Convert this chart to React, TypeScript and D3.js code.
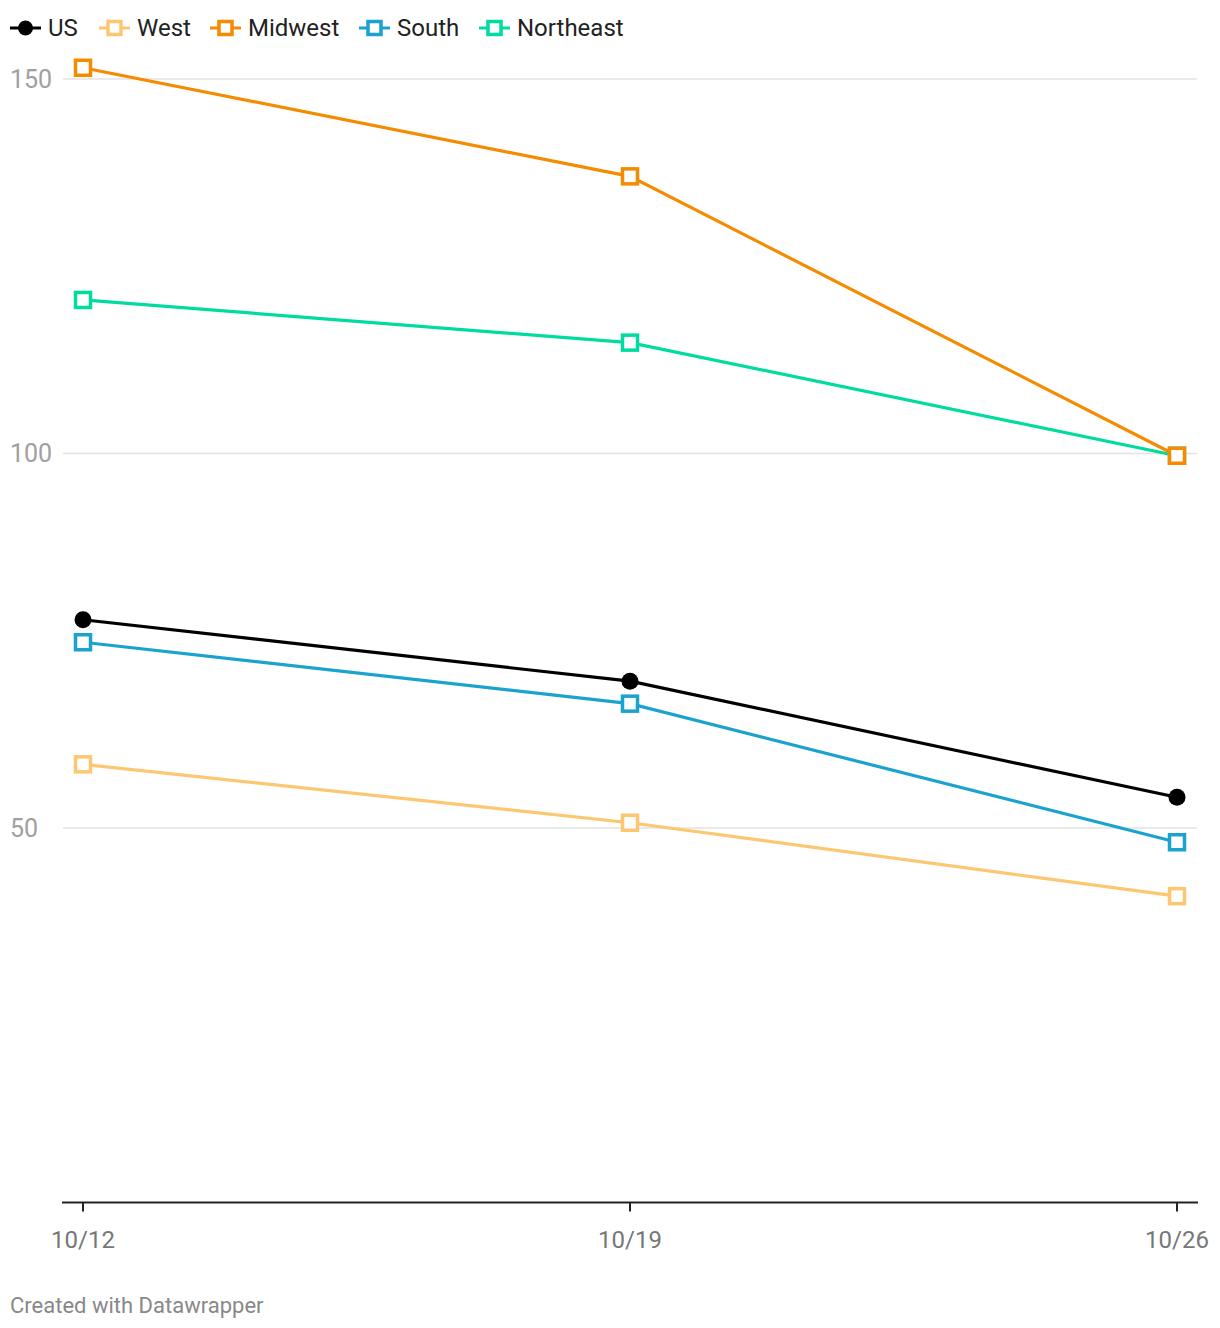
import React from "react";
import * as d3 from "d3";

const dates = ["10/12", "10/19", "10/26"];
const seriesNames = ["US", "West", "Midwest", "South", "Northeast"];
const usValues = [77.8, 69.6, 54.1];
const westValues = [58.5, 50.7, 40.9];
const midwestValues = [151.5, 137.0, 99.7];
const southValues = [74.8, 66.6, 48.1];
const northeastValues = [120.5, 114.8, 99.7];
const yTicks = [50, 100, 150];
const colors = ["#000000", "#fdc771", "#f58b00", "#1ba3d0", "#00dca0"];

const W = 1220;
const H = 1328;
const FONT = "Roboto, 'Noto Sans', sans-serif";

export default function App() {
  const values = [usValues, westValues, midwestValues, southValues, northeastValues];
  const x = d3.scalePoint<string>().domain(dates).range([83, 1177]);
  const y = d3.scaleLinear().domain([0, 150]).range([1202.5, 79]);
  const line = d3
    .line<number>()
    .x((_, i) => x(dates[i]) as number)
    .y((d) => y(d));

  const legendX = [10, 99, 210, 359, 479];

  const order = [1, 3, 4, 2, 0];

  return (
    <svg width={W} height={H} style={{ display: "block", position: "absolute", left: 0, top: 0 }}>
      <rect width={W} height={H} fill="#fff" />
      {yTicks.map((t) => (
        <g key={t}>
          <line x1={63} x2={1197} y1={y(t)} y2={y(t)} stroke="#e3e3e3" strokeWidth={1.5} />
          <text x={10} y={y(t)} dy="0.35em" fontFamily={FONT} fontSize={25} fill="#a0a0a0">
            {t}
          </text>
        </g>
      ))}
      <line x1={62} x2={1198} y1={y(0)} y2={y(0)} stroke="#222" strokeWidth={2} />
      {dates.map((d) => (
        <g key={d}>
          <line x1={x(d)} x2={x(d)} y1={y(0)} y2={y(0) + 9} stroke="#222" strokeWidth={2} />
          <text x={x(d)} y={1240} dy="0.35em" textAnchor="middle" fontFamily={FONT} fontSize={24} fill="#777">
            {d}
          </text>
        </g>
      ))}
      {order.map((si) => (
        <g key={seriesNames[si]}>
          <path d={line(values[si]) || ""} fill="none" stroke={colors[si]} strokeWidth={3.2} />
          {values[si].map((v, i) =>
            si === 0 ? (
              <circle key={i} cx={x(dates[i])} cy={y(v)} r={8.5} fill={colors[si]} />
            ) : (
              <rect
                key={i}
                x={(x(dates[i]) as number) - 7.5}
                y={y(v) - 7.5}
                width={15}
                height={15}
                fill="#fff"
                stroke={colors[si]}
                strokeWidth={3.5}
              />
            )
          )}
        </g>
      ))}
      {seriesNames.map((name, si) => {
        const lx = legendX[si];
        const cy = 28;
        return (
          <g key={name}>
            <line x1={lx} x2={lx + 31} y1={cy} y2={cy} stroke={colors[si]} strokeWidth={3} />
            {si === 0 ? (
              <circle cx={lx + 15.5} cy={cy} r={7.5} fill={colors[si]} />
            ) : (
              <rect x={lx + 15.5 - 6.5} y={cy - 6.5} width={13} height={13} fill="#fff" stroke={colors[si]} strokeWidth={3.5} />
            )}
            <text x={lx + 38} y={cy} dy="0.35em" fontFamily={FONT} fontSize={24} fill="#222">
              {name}
            </text>
          </g>
        );
      })}
      <text x={10} y={1305} dy="0.35em" fontFamily={FONT} fontSize={22} fill="#888">
        Created with Datawrapper
      </text>
    </svg>
  );
}
